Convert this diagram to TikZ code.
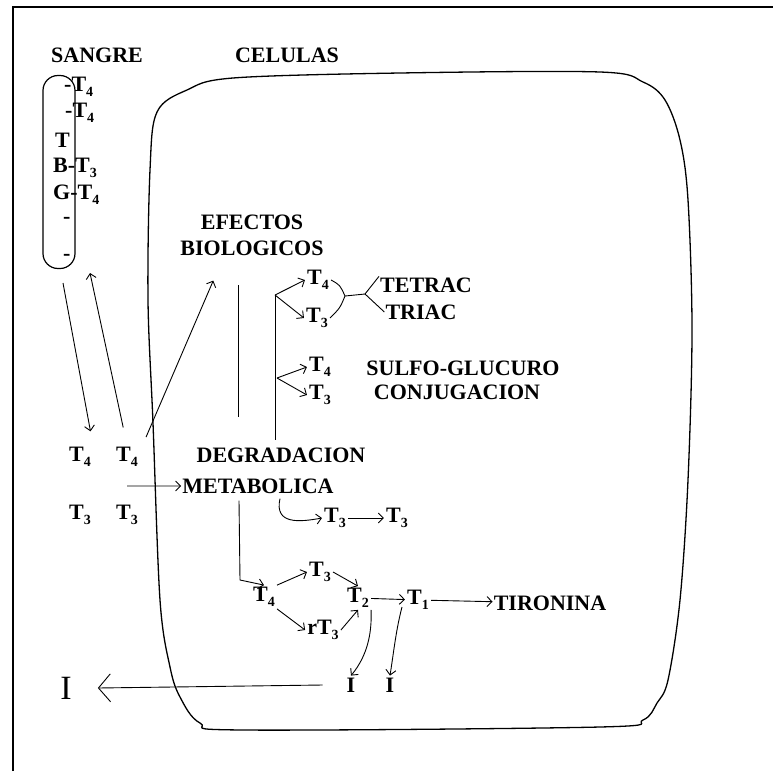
\documentclass[tikz,border=0pt]{standalone}
\usepackage{fontspec}
\setmainfont{Liberation Serif}
\usetikzlibrary{arrows.meta,positioning,calc}

\newcommand{\tsub}[1]{\raisebox{-5pt}{\fontsize{14}{14}\selectfont#1}}
\tikzset{
  txt/.style={font=\fontsize{22}{26}\selectfont\bfseries, inner sep=1pt},
  horm/.style={txt, inner sep=2pt},
  arr/.style={-{Straight Barb[length=5pt,width=10pt]}, line width=0.9pt},
  bigarr/.style={-{Straight Barb[length=12pt,width=28pt]}, line width=0.9pt},
  ln/.style={line width=0.9pt},
}

\begin{document}
\begin{tikzpicture}[x=1pt,y=-1pt]
  \useasboundingbox (0,0) rectangle (773,771);
  % frame and cell outline
  \draw[line width=1.6pt] (13,771) -- (13,7) -- (773,7);
  \draw[line width=1.3pt] plot[smooth cycle, tension=0.55] coordinates {
    (148,300) (150,170) (157,112) (187,90) (233,78) (400,73) (600,72)
    (643,82) (665,100) (680,140) (688,200) (692,330) (688,480) (680,600)
    (668,680) (657,703) (643,720) (600,727) (243,730) (200,723) (180,697)
    (170,667) (160,600) (153,423)};

  % Define nodes
  \node[txt] (sangre) at (97,55) {SANGRE};
  \node[txt] (celulas) at (287,55) {CELULAS};
  \node[draw, line width=1.2pt, rounded corners=15pt, minimum width=32pt,
        minimum height=193pt] (tbg) at (59,172) {};
  \node[horm, anchor=west] (b1) at (62,87) {-T\tsub{4}};
  \node[horm, anchor=west] (b2) at (63,113) {-T\tsub{4}};
  \node[horm, anchor=west] (b3) at (53,140) {T};
  \node[horm, anchor=west] (b4) at (51,168) {B-T\tsub{3}};
  \node[horm, anchor=west] (b5) at (51,195) {G-T\tsub{4}};
  \node[horm, anchor=west, inner sep=0pt] (b6) at (63,220) {-};
  \node[horm, anchor=west, inner sep=0pt] (b7) at (63,257) {-};

  \node[horm] (t4a) at (80,457) {T\tsub{4}};
  \node[horm] (t4b) at (127,457) {T\tsub{4}};
  \node[horm] (t3a) at (80,515) {T\tsub{3}};
  \node[horm] (t3b) at (127,515) {T\tsub{3}};

  \node[txt, align=center] (efectos) at (252,235) {EFECTOS\\BIOLOGICOS};
  \node[horm] (bt4) at (318,280) {T\tsub{4}};
  \node[horm] (bt3) at (317,318) {T\tsub{3}};
  \node[txt] (tetrac) at (426,285) {TETRAC};
  \node[txt] (triac) at (421,312) {TRIAC};
  \node[horm] (ct4) at (320,367) {T\tsub{4}};
  \node[horm] (ct3) at (320,395) {T\tsub{3}};
  \node[txt] (sulfo) at (463,368) {SULFO-GLUCURO};
  \node[txt] (conj) at (457,392) {CONJUGACION};

  \node[txt] (degr) at (281,455) {DEGRADACION};
  \node[txt] (metab) at (258,486) {METABOLICA};
  \node[horm] (dt3a) at (335,518) {T\tsub{3}};
  \node[horm] (dt3b) at (397,518) {T\tsub{3}};

  \node[horm] (lt4) at (264,597) {T\tsub{4}};
  \node[horm] (lt3) at (320,572) {T\tsub{3}};
  \node[horm] (lt2) at (358,598) {T\tsub{2}};
  \node[horm] (rt3) at (323,630) {rT\tsub{3}};
  \node[horm] (lt1) at (418,600) {T\tsub{1}};
  \node[txt] (tironina) at (550,603) {TIRONINA};
  \node[horm] (ia) at (351,685) {I};
  \node[horm] (ib) at (390,685) {I};
  \node[font=\fontsize{34}{34}\selectfont, inner sep=1pt] (iout) at (66,688) {I};

  % Edges
  \draw[arr, shorten >=14pt] (63,283) -- (t4a.north east);
  \draw[arr, shorten <=18pt] (t4b.north) -- (90,273);
  \draw[arr] ($(t4b.north east)+(6,-8)$) -- ($(efectos.south west)+(34,24)$);
  \draw[arr] ($(t4b.south)!0.5!(t3b.north)$) -- (metab.west);

  \draw[ln] (238,285) -- (238,417);
  \coordinate (br1) at (275,295);
  \coordinate (br2) at (277,378);
  \draw[ln] (br1) -- (275,440);
  \draw[arr] (br1) -- (bt4.west);
  \draw[arr] (br1) -- (bt3.west);
  \draw[arr] (br2) -- (ct4.west);
  \draw[arr] (br2) -- (ct3.west);

  \coordinate (jn1) at (345,296);
  \coordinate (jn2) at (365,294);
  \draw[ln] (bt4.east) .. controls (340,285) .. (jn1);
  \draw[ln] (bt3.east) .. controls (340,308) .. (jn1);
  \draw[ln] (jn1) -- (jn2);
  \draw[ln] (jn2) -- (tetrac.north west);
  \draw[ln] (jn2) -- (triac.west);

  \draw[arr] ($(metab.south)+(22,4)$) .. controls (274,525) and (300,522) .. (dt3a.west);
  \draw[arr] (dt3a) -- (dt3b);
  \draw[arr] ($(metab.south)+(-19,6)$) -- (240,580) -- (lt4.north);

  \draw[arr] (lt4.north east) -- (lt3.west);
  \draw[arr] (lt3.east) -- (lt2.north);
  \draw[arr] (lt4.south east) -- (rt3.west);
  \draw[arr] (rt3.east) -- (lt2.south);
  \draw[arr] (lt2) -- (lt1);
  \draw[arr] (lt1) -- (tironina);
  \draw[arr] (lt2.south east) .. controls (372,632) and (368,655) .. (ia.north);
  \draw[arr] (402,607) .. controls (396,630) and (394,650) .. (ib.north);
  \draw[bigarr] ($(ia.west)+(-22,0)$) -- ($(iout.east)+(25,0)$);
\end{tikzpicture}
\end{document}
